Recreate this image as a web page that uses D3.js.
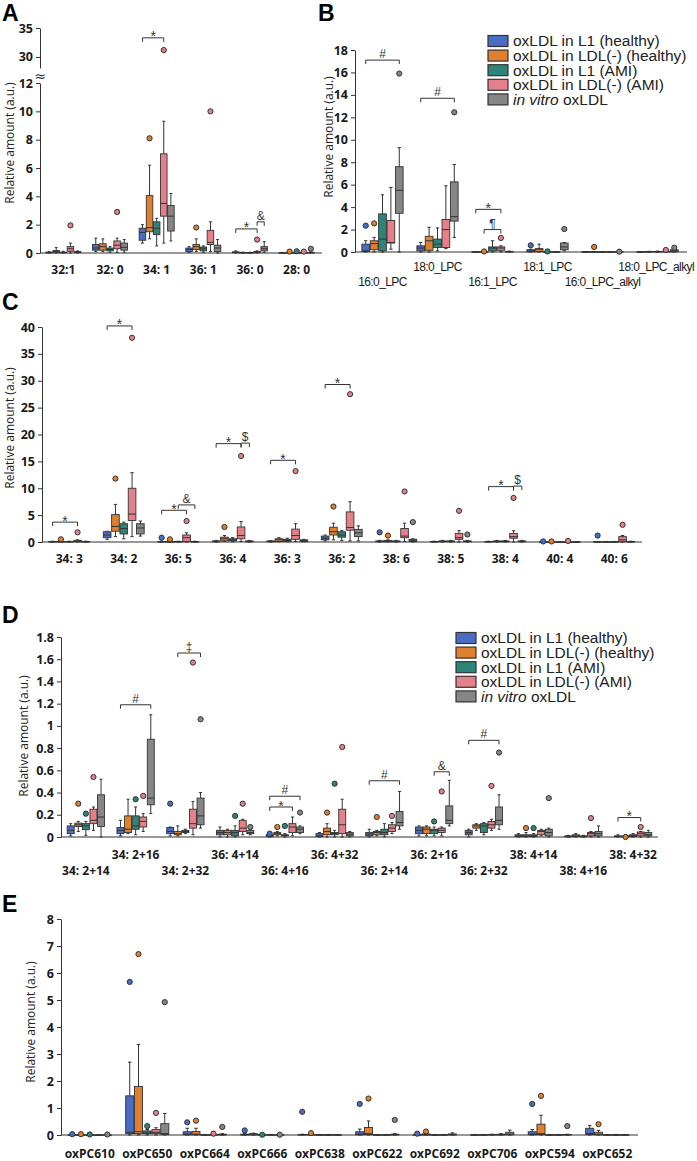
<!DOCTYPE html>
<html><head><meta charset="utf-8">
<script src="https://cdn.jsdelivr.net/npm/d3@7"></script>
<style>body{margin:0;background:#fff}svg{display:block}</style>
</head><body><svg id="c" width="697" height="1161"></svg>
<script>
const seriesNames = ["oxLDL in L1 (healthy)","oxLDL in LDL(-) (healthy)","oxLDL in L1 (AMI)","oxLDL in LDL(-) (AMI)","in vitro oxLDL"];

// ---------- Panel A ----------
const catsA = ["32:1","32: 0","34: 1","36: 1","36: 0","28: 0"];
const ticksA = [0,2,4,6,8,10,12];
const ticksAUpper = [30,35];
const aL1H = [[0,0.01,0.03,0.06,0.1],[0.1,0.2,0.35,0.6,1.05],[0.7,0.9,1.45,1.75,2.0],[0.05,0.1,0.25,0.35,0.45],[0,0.02,0.05,0.08,0.15],[0,0,0.01,0.02,0.04]];
const aLDLH = [[0,0.05,0.1,0.18,0.38],[0.1,0.2,0.45,0.65,1.0],[1.0,1.5,1.8,4.05,6.2],[0.1,0.25,0.45,0.6,1.0],[0,0.01,0.02,0.04,0.06],[0,0,0.01,0.02,0.03]];
const aL1A = [[0,0.01,0.03,0.06,0.12],[0.05,0.15,0.25,0.35,0.45],[0.5,1.3,1.75,2.2,2.45],[0.05,0.15,0.3,0.42,0.5],[0,0.01,0.02,0.03,0.05],[0,0,0.01,0.02,0.03]];
const aLDLA = [[0,0.12,0.3,0.45,0.7],[0.05,0.3,0.55,0.85,1.05],[0.7,2.6,3.5,7.0,9.3],[0.1,0.6,0.75,1.6,2.2],[0,0.03,0.06,0.1,0.15],[0,0,0.01,0.02,0.03]];
const aVitro = [[0,0.03,0.06,0.1,0.15],[0.05,0.2,0.4,0.7,0.95],[0.85,1.55,2.6,3.35,4.2],[0,0.1,0.35,0.55,0.95],[0.05,0.15,0.3,0.45,0.8],[0,0.01,0.02,0.05,0.08]];
const outA = [[0,3,1.95],[1,3,2.9],[2,1,8.1],[2,3,31.2],[3,1,1.8],[3,3,10.0],[4,3,0.95],[5,1,0.1],[5,2,0.12],[5,3,0.1],[5,4,0.3]];
const sigA = [[2,0,3,33.3,"*"],[4,0,3,1.7,"*"],[4,3,4,2.2,"&"]];

// ---------- Panel B ----------
const catsB = ["16:0_LPC","18:0_LPC","16:1_LPC","18:1_LPC","16:0_LPC_alkyl","18:0_LPC_alkyl"];
const ticksB = [0,2,4,6,8,10,12,14,16,18];
const bL1H = [[0,0.05,0.1,0.7,1.0],[0,0.1,0.35,0.55,0.85],[0,0,0.01,0.02,0.03],[0,0.02,0.1,0.2,0.25],[0,0,0.01,0.02,0.03],[0,0,0.01,0.02,0.04]];
const bLDLH = [[0,0.2,0.75,1.0,1.3],[0,0.15,1.0,1.4,2.2],[0,0,0.01,0.02,0.03],[0,0.05,0.25,0.3,0.7],[0,0,0.01,0.02,0.04],[0,0.01,0.02,0.04,0.06]];
const bL1A = [[0,0.1,1.15,3.4,5.1],[0.1,0.4,0.7,1.15,2.15],[0,0.1,0.35,0.45,1.0],[0,0,0.01,0.02,0.03],[0,0,0.01,0.02,0.03],[0,0.01,0.02,0.05,0.08]];
const bLDLA = [[0.25,0.8,0.85,2.8,5.75],[0.3,0.4,2.0,2.9,5.9],[0,0.15,0.35,0.45,0.55],[0,0,0.01,0.02,0.03],[0,0,0.01,0.02,0.03],[0,0.01,0.03,0.06,0.1]];
const bVitro = [[0,3.45,5.5,7.6,9.3],[1.3,2.75,3.15,6.25,7.8],[0,0.01,0.03,0.05,0.08],[0.1,0.2,0.45,0.8,0.85],[0,0,0.01,0.02,0.03],[0,0.02,0.1,0.2,0.3]];
const outB = [[0,0,2.35],[0,1,2.55],[0,4,15.9],[1,4,12.45],[2,1,0.05],[2,3,1.25],[3,0,0.6],[3,2,0.05],[3,4,2.05],[4,1,0.45],[4,4,0.03],[5,3,0.18],[5,4,0.38]];
const sigB = [[0,0,4,17.1,"#"],[1,0,4,13.7,"#"],[2,0,3,3.8,"*"],[2,1,3,2.0,"¶"]];

// ---------- Panel C ----------
const catsC = ["34: 3","34: 2","36: 5","36: 4","36: 3","36: 2","38: 6","38: 5","38: 4","40: 4","40: 6"];
const ticksC = [0,5,10,15,20,25,30,35,40];
const cL1H = [[0,0.02,0.05,0.1,0.15],[0.5,0.8,1.3,1.9,2.0],[0,0.02,0.05,0.1,0.15],[0,0.05,0.1,0.2,0.3],[0,0.05,0.1,0.2,0.25],[0.2,0.4,0.7,1.1,1.3],[0,0.05,0.1,0.2,0.3],[0,0.02,0.05,0.1,0.15],[0,0.02,0.05,0.1,0.15],[0,0,0.01,0.02,0.03],[0,0.01,0.03,0.06,0.1]];
const cLDLH = [[0,0.02,0.05,0.1,0.15],[1.0,2.0,2.9,5.1,7.0],[0,0.02,0.05,0.08,0.1],[0.1,0.2,0.6,0.9,1.2],[0.05,0.1,0.4,0.6,0.8],[0.4,1.3,1.9,2.75,3.5],[0,0.05,0.15,0.3,0.4],[0,0.05,0.1,0.2,0.3],[0,0.05,0.1,0.2,0.3],[0,0,0.01,0.02,0.03],[0,0.01,0.03,0.06,0.1]];
const cL1A = [[0,0.02,0.05,0.1,0.15],[0.6,1.5,2.5,3.4,3.7],[0,0.02,0.05,0.1,0.15],[0.05,0.2,0.4,0.6,0.8],[0.05,0.1,0.3,0.5,0.7],[0.3,0.9,1.3,1.9,2.1],[0,0.05,0.1,0.2,0.3],[0,0.05,0.1,0.2,0.3],[0,0.05,0.1,0.2,0.3],[0,0,0.01,0.02,0.03],[0,0.01,0.03,0.06,0.1]];
const cLDLA = [[0,0.05,0.15,0.3,0.4],[1.0,4.0,5.2,10.0,12.9],[0,0.1,0.8,1.3,1.7],[0.1,0.6,1.2,2.8,3.8],[0.1,0.5,1.2,2.4,3.4],[0.2,2.2,2.7,5.6,7.5],[0.1,0.8,1.1,2.5,3.5],[0,0.5,0.8,1.6,2.1],[0,0.7,1.0,1.6,2.1],[0,0,0.01,0.02,0.05],[0,0.05,0.4,1.0,1.2]];
const cVitro = [[0,0.02,0.05,0.1,0.15],[1.1,1.5,2.6,3.4,3.9],[0,0.02,0.05,0.1,0.15],[0,0.05,0.1,0.2,0.3],[0.05,0.1,0.25,0.4,0.5],[0.2,1.0,1.7,2.35,3.0],[0,0.1,0.3,0.5,0.6],[0,0.05,0.1,0.2,0.3],[0,0.05,0.1,0.2,0.3],[0,0,0.01,0.02,0.03],[0,0.02,0.05,0.1,0.15]];
const outC = [[0,1,0.5],[0,3,1.8],[1,1,11.8],[1,3,38],[2,0,0.8],[2,1,0.5],[2,3,3.9],[3,1,2.8],[3,3,16],[4,3,13.2],[5,1,6.6],[5,3,27.5],[6,0,1.8],[6,1,1.2],[6,3,9.4],[6,4,3.7],[7,3,5.8],[7,4,1.4],[8,3,8.2],[9,0,0.1],[9,1,0.1],[9,3,0.2],[10,0,1.2],[10,3,3.2]];
const sigC = [[0,0,3,3.7,"*"],[1,0,3,40.2,"*"],[2,0,3,5.9,"*"],[2,2,4,6.9,"&"],[3,0,3,18.3,"*"],[3,3,4,18.4,"$"],[4,0,3,15.2,"*"],[5,0,3,29.3,"*"],[8,0,3,10.3,"*"],[8,3,4,10.4,"$"]];

// ---------- Panel D ----------
const catsD = ["34: 2+14","34: 2+16","34: 2+32","36: 4+14","36: 4+16","36: 4+32","36: 2+14","36: 2+16","36: 2+32","38: 4+14","38: 4+16","38: 4+32"];
const ticksD = [0,0.2,0.4,0.6,0.8,1,1.2,1.4,1.6,1.8];
const dL1H = [[0.01,0.03,0.06,0.1,0.12],[0.01,0.03,0.06,0.085,0.15],[0.01,0.03,0.05,0.085,0.09],[0,0.02,0.04,0.06,0.09],[0,0.005,0.01,0.02,0.025],[0,0.005,0.01,0.03,0.04],[0,0.01,0.025,0.04,0.07],[0.01,0.03,0.06,0.09,0.1],[0,0.02,0.04,0.06,0.07],[0,0.005,0.01,0.02,0.03],[0,0.002,0.005,0.01,0.015],[0,0.002,0.005,0.01,0.02]];
const dLDLH = [[0.05,0.095,0.11,0.125,0.14],[0.03,0.04,0.07,0.19,0.34],[0.01,0.02,0.03,0.05,0.1],[0,0.02,0.04,0.06,0.07],[0.01,0.02,0.03,0.04,0.05],[0,0.02,0.05,0.08,0.12],[0.01,0.02,0.04,0.05,0.06],[0.01,0.03,0.07,0.09,0.1],[0.06,0.08,0.1,0.11,0.12],[0,0.005,0.01,0.02,0.04],[0,0.005,0.01,0.02,0.03],[0,0.002,0.005,0.01,0.02]];
const dL1A = [[0.015,0.066,0.1,0.12,0.14],[0.02,0.07,0.1,0.19,0.27],[0.03,0.04,0.05,0.06,0.07],[0,0.01,0.04,0.06,0.1],[0,0.01,0.015,0.02,0.03],[0,0.02,0.03,0.04,0.06],[0,0.02,0.04,0.07,0.12],[0.01,0.03,0.06,0.07,0.09],[0.02,0.04,0.1,0.12,0.13],[0,0.005,0.01,0.02,0.03],[0,0.002,0.005,0.01,0.015],[0,0.005,0.01,0.02,0.03]];
const dLDLA = [[0.06,0.12,0.15,0.25,0.27],[0.05,0.09,0.14,0.18,0.21],[0.02,0.08,0.12,0.25,0.32],[0.02,0.05,0.08,0.15,0.16],[0.01,0.04,0.09,0.12,0.18],[0,0.03,0.11,0.25,0.34],[0.03,0.05,0.08,0.11,0.13],[0.01,0.04,0.06,0.08,0.09],[0.06,0.08,0.11,0.14,0.16],[0.01,0.02,0.05,0.06,0.07],[0,0.01,0.03,0.04,0.05],[0,0.01,0.03,0.045,0.05]];
const dVitro = [[0,0.095,0.18,0.38,0.52],[0.21,0.29,0.35,0.88,1.1],[0.08,0.11,0.19,0.35,0.4],[0.02,0.03,0.04,0.06,0.07],[0.03,0.04,0.07,0.09,0.1],[0,0.01,0.025,0.04,0.05],[0.07,0.1,0.13,0.23,0.41],[0.1,0.12,0.15,0.28,0.51],[0.07,0.11,0.15,0.27,0.38],[0,0.01,0.04,0.07,0.08],[0,0.01,0.03,0.05,0.1],[0,0.01,0.02,0.04,0.06]];
const outD = [[0,1,0.3],[0,2,0.21],[0,3,0.54],[1,2,0.34],[1,3,0.37],[2,0,0.3],[2,3,1.57],[2,4,1.06],[3,2,0.19],[3,3,0.3],[3,4,0.09],[4,0,0.03],[4,1,0.09],[4,2,0.1],[4,4,0.22],[5,1,0.22],[5,2,0.48],[5,3,0.81],[6,1,0.18],[6,3,0.19],[7,2,0.14],[7,3,0.41],[8,3,0.46],[8,4,0.76],[9,1,0.08],[9,2,0.08],[9,4,0.35],[10,3,0.17],[11,1,0.0],[11,3,0.09]];
const sigD = [[1,0,4,1.19,"#"],[2,1,4,1.656,"‡"],[4,0,3,0.27,"*"],[4,0,4,0.367,"#"],[6,0,4,0.506,"#"],[7,2,4,0.587,"&"],[8,0,4,0.87,"#"],[11,0,3,0.175,"*"]];

// ---------- Panel E ----------
const catsE = ["oxPC610","oxPC650","oxPC664","oxPC666","oxPC638","oxPC622","oxPC692","oxPC706","oxPC594","oxPC652"];
const ticksE = [0,1,2,3,4,5,6,7,8];
const eL1H = [[0,0,0,0.005,0.01],[0,0.05,0.1,1.45,2.7],[0,0.01,0.03,0.12,0.25],[0,0.005,0.01,0.03,0.06],[0,0.005,0.01,0.02,0.03],[0,0.01,0.03,0.12,0.22],[0,0,0.005,0.01,0.02],[0,0,0.005,0.01,0.02],[0,0.01,0.03,0.12,0.2],[0,0.02,0.05,0.25,0.35]];
const eLDLH = [[0,0,0,0.005,0.01],[0,0.05,0.12,1.8,3.35],[0,0.01,0.03,0.13,0.25],[0,0.005,0.02,0.05,0.07],[0,0.005,0.01,0.02,0.03],[0,0.02,0.05,0.28,0.52],[0,0.005,0.01,0.04,0.06],[0,0,0.005,0.01,0.02],[0,0.02,0.05,0.4,0.73],[0,0.01,0.03,0.1,0.17]];
const eL1A = [[0,0,0,0.005,0.01],[0,0.05,0.08,0.15,0.2],[0,0,0.005,0.01,0.02],[0,0,0.005,0.01,0.02],[0,0,0.005,0.01,0.02],[0,0,0.005,0.01,0.02],[0,0,0.005,0.01,0.02],[0,0.005,0.01,0.02,0.03],[0,0,0.005,0.01,0.02],[0,0,0.005,0.01,0.02]];
const eLDLA = [[0,0,0,0.005,0.01],[0,0.05,0.1,0.2,0.27],[0,0,0.005,0.01,0.02],[0,0,0.005,0.01,0.02],[0,0,0.005,0.01,0.02],[0,0,0.005,0.01,0.02],[0,0,0.005,0.01,0.02],[0,0.005,0.01,0.03,0.05],[0,0,0.005,0.01,0.02],[0,0,0.005,0.01,0.02]];
const eVitro = [[0,0,0,0.005,0.01],[0,0.02,0.05,0.42,0.8],[0,0.005,0.01,0.03,0.05],[0,0,0.005,0.01,0.02],[0,0,0.005,0.01,0.02],[0,0.005,0.01,0.03,0.05],[0,0.005,0.01,0.04,0.08],[0,0.01,0.03,0.1,0.18],[0,0.005,0.01,0.02,0.03],[0,0,0.005,0.01,0.02]];
const outE = [[0,0,0.03],[0,1,0.03],[0,2,0.02],[0,4,0.02],[1,0,5.67],[1,1,6.7],[1,2,0.33],[1,3,0.82],[1,4,4.92],[2,0,0.47],[2,1,0.53],[2,3,0.05],[2,4,0.3],[3,0,0.17],[3,2,0.01],[3,4,0.01],[4,0,0.86],[4,1,0.07],[5,0,1.15],[5,1,1.35],[5,4,0.56],[6,0,0.05],[6,1,0.13],[8,0,1.15],[8,1,1.45],[8,4,0.33],[9,1,0.4]];

// ---------- drawing ----------
const colors = ["#4a6cc3","#e07f2e","#2f8479","#e57f89","#868686"];
const INK = "#333";
const svg = d3.select("#c");
const tickFont = "'Open Sans', 'DejaVu Sans', sans-serif";
const fmt = d3.format("~g");

function styleAxis(g) {
  g.select(".domain").attr("stroke", INK).attr("stroke-width", 1);
  g.selectAll(".tick line").attr("stroke", INK);
  g.selectAll(".tick text").attr("fill", "#1a1a1a").attr("font-family", tickFont)
    .attr("font-weight", 700).attr("font-size", 12.5);
}

function drawPanel(o) {
  const g = svg.append("g");
  const x = d3.scaleBand().domain(d3.range(o.cats.length)).range(o.xRange);
  const bw = x.bandwidth();
  const xs = d3.scaleBand().domain(d3.range(5)).range([bw * 0.125, bw * 0.875]).paddingInner(0.08);
  const w = xs.bandwidth();
  const cx = (i, s) => x(i) + xs(s) + w / 2;
  const y = o.y;

  o.axes.forEach(ax => {
    const a = g.append("g").attr("transform", `translate(${o.xRange[0]},0)`)
      .call(d3.axisLeft(ax.scale).tickValues(ax.ticks).tickFormat(fmt).tickSize(4).tickSizeOuter(0).tickPadding(3));
    styleAxis(a);
  });

  o.series.forEach((arr, s) => {
    arr.forEach((d, i) => {
      const [mn, q1, md, q3, mx] = d;
      const xc = cx(i, s);
      g.append("line").attr("x1", xc).attr("x2", xc).attr("y1", y(mn)).attr("y2", y(mx))
        .attr("stroke", INK).attr("stroke-width", 1);
      [mn, mx].forEach(v => g.append("line").attr("x1", xc - w * 0.22).attr("x2", xc + w * 0.22)
        .attr("y1", y(v)).attr("y2", y(v)).attr("stroke", INK).attr("stroke-width", 1));
      g.append("rect").attr("x", xc - w / 2).attr("width", w)
        .attr("y", y(q3)).attr("height", Math.max(0.5, y(q1) - y(q3)))
        .attr("fill", colors[s]).attr("stroke", INK).attr("stroke-width", 0.9);
      g.append("line").attr("x1", xc - w / 2).attr("x2", xc + w / 2).attr("y1", y(md)).attr("y2", y(md))
        .attr("stroke", INK).attr("stroke-width", 1);
    });
  });

  g.append("line").attr("x1", o.xRange[0]).attr("x2", o.xEnd).attr("y1", y(0)).attr("y2", y(0))
    .attr("stroke", INK).attr("stroke-width", 1.2);

  o.outliers.forEach(([i, s, v]) => {
    g.append("circle").attr("cx", cx(i, s)).attr("cy", y(v)).attr("r", 2.6)
      .attr("fill", colors[s]).attr("stroke", INK).attr("stroke-width", 1);
  });

  (o.sigs || []).forEach(([i, s1, s2, v, sym]) => {
    const x1 = cx(i, s1), x2 = cx(i, s2), yy = y(v);
    g.append("path").attr("d", `M${x1},${yy + 4}V${yy}H${x2}V${yy + 4}`)
      .attr("fill", "none").attr("stroke", INK).attr("stroke-width", 1);
    const isStar = sym === "*";
    g.append("text").attr("x", (x1 + x2) / 2).attr("y", isStar ? yy + 3.5 : yy - 2)
      .attr("text-anchor", "middle").attr("font-family", "'Liberation Sans', Arial, sans-serif")
      .attr("font-size", isStar ? 14 : 12).attr("fill", INK).text(sym);
  });

  o.cats.forEach((c, i) => {
    const row = o.labelRows ? o.labelRows(i) : 0;
    const xc = x(i) + bw / 2;
    const t = g.append("text").attr("x", xc).attr("y", o.labelY[row])
      .attr("text-anchor", "middle")
      .attr("font-family", o.labelFont || tickFont)
      .attr("font-weight", o.labelWeight || 700)
      .attr("letter-spacing", o.labelSpacing || 0)
      .attr("font-size", o.labelSize || 12).attr("fill", "#1a1a1a").text(c);
    const len = t.node().getComputedTextLength();
    if (xc + len / 2 > 694) t.attr("text-anchor", "end").attr("x", 694);
  });

  g.append("text").attr("transform", `translate(${o.titlePos[0]},${o.titlePos[1]}) rotate(-90)`)
    .attr("text-anchor", "middle").attr("dominant-baseline", "central")
    .attr("font-family", tickFont).attr("font-size", 12).attr("fill", "#222")
    .text("Relative amount (a.u.)");

  svg.append("text").attr("x", o.letterPos[0]).attr("y", o.letterPos[1])
    .attr("font-family", "'Liberation Sans', Arial, sans-serif").attr("font-weight", 700)
    .attr("font-size", 23).attr("fill", "#000").text(o.letter);
}

function legend(x0, y0) {
  const g = svg.append("g");
  seriesNames.forEach((n, i) => {
    const yy = y0 + i * 14.6;
    g.append("rect").attr("x", x0).attr("y", yy - 5.5).attr("width", 20).attr("height", 11)
      .attr("fill", colors[i]).attr("stroke", INK).attr("stroke-width", 1.2);
    const t = g.append("text").attr("x", x0 + 25).attr("y", yy + 5.3)
      .attr("font-family", "'Liberation Sans', Arial, sans-serif").attr("font-size", 15.5).attr("fill", "#222");
    if (n.startsWith("in vitro")) {
      t.append("tspan").attr("font-style", "italic").text("in vitro");
      t.append("tspan").text(" oxLDL");
    } else t.text(n);
  });
}

const yALow = d3.scaleLinear().domain([0, 12]).range([253, 83]);
const yAUp = d3.scaleLinear().domain([28.1, 35]).range([68, 28]);
const yA = v => v <= 12 ? yALow(v) : yAUp(v);
drawPanel({
  letter: "A", letterPos: [2, 21], cats: catsA, series: [aL1H, aLDLH, aL1A, aLDLA, aVitro],
  outliers: outA, sigs: sigA, xRange: [40, 320], xEnd: 322, y: yA,
  axes: [{scale: yALow, ticks: ticksA}, {scale: yAUp, ticks: ticksAUpper}],
  labelY: [274], titlePos: [9, 143]
});
svg.append("text").attr("x", 40).attr("y", 81).attr("text-anchor", "middle")
  .attr("font-family", "'DejaVu Sans', sans-serif").attr("font-size", 14).attr("fill", INK).text("≈");

const yB = d3.scaleLinear().domain([0, 18]).range([252, 50]);
drawPanel({
  letter: "B", letterPos: [318, 21], cats: catsB, series: [bL1H, bLDLH, bL1A, bLDLA, bVitro],
  outliers: outB, sigs: sigB, xRange: [355, 685], xEnd: 687, y: yB,
  axes: [{scale: yB, ticks: ticksB}], labelY: [286, 271], labelRows: i => i % 2,
  labelFont: "'Liberation Sans', Arial, sans-serif", labelWeight: 400, labelSize: 12, labelSpacing: -0.6,
  titlePos: [328, 137]
});
legend(488, 41);

const yC = d3.scaleLinear().domain([0, 40]).range([542, 327]);
drawPanel({
  letter: "C", letterPos: [2, 310], cats: catsC, series: [cL1H, cLDLH, cL1A, cLDLA, cVitro],
  outliers: outC, sigs: sigC, xRange: [42, 641.5], xEnd: 642, y: yC,
  axes: [{scale: yC, ticks: ticksC}], labelY: [563], titlePos: [9, 428]
});

const yD = d3.scaleLinear().domain([0, 1.8]).range([837, 637]);
drawPanel({
  letter: "D", letterPos: [2, 623], cats: catsD, series: [dL1H, dLDLH, dL1A, dLDLA, dVitro],
  outliers: outD, sigs: sigD, xRange: [61, 658], xEnd: 658, y: yD,
  axes: [{scale: yD, ticks: ticksD}], labelY: [875, 859], labelRows: i => i % 2,
  titlePos: [23, 736]
});
legend(456, 638);

const yE = d3.scaleLinear().domain([0, 8]).range([1135, 919]);
drawPanel({
  letter: "E", letterPos: [2, 912], cats: catsE, series: [eL1H, eLDLH, eL1A, eLDLA, eVitro],
  outliers: outE, sigs: [], xRange: [61, 636], xEnd: 638, y: yE,
  axes: [{scale: yE, ticks: ticksE}], labelY: [1158], titlePos: [30, 1022]
});
</script>
</body></html>
